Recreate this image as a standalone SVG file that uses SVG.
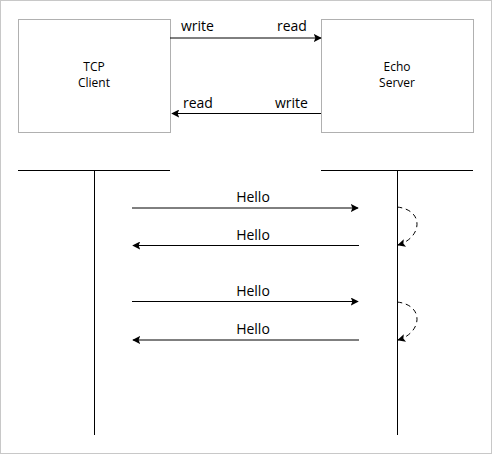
<svg xmlns="http://www.w3.org/2000/svg" width="492" height="454" viewBox="0 0 492 454">
<defs>
<marker id="ah" viewBox="0 0 10 10" refX="9" refY="5" markerWidth="8" markerHeight="8" markerUnits="userSpaceOnUse" orient="auto"><path d="M0,0 L10,5 L0,10 L2,5 z" fill="#000"/></marker>
</defs>
<style>
.box{fill:#fff;stroke:#b0b0b0;stroke-width:1}
.ln{stroke:#000;stroke-width:1;fill:none}
.arr{stroke:#000;stroke-width:1;fill:none;marker-end:url(#ah)}
.dash{stroke:#000;stroke-width:1;fill:none;stroke-dasharray:5,4;marker-end:url(#ah)}
.t{font-family:"Open Sans","Noto Sans",sans-serif;fill:#000}
.s{font-size:12px;text-anchor:middle}
.m{font-size:14px}
</style>
<rect x="0.5" y="0.5" width="491" height="453" fill="#fff" stroke="#c8c8c8"/>
<g id="client"><rect class="box" x="18.5" y="19.5" width="152" height="113"/><text class="t s" x="94" y="71">TCP</text><text class="t s" x="94" y="87">Client</text></g>
<g id="server"><rect class="box" x="321.5" y="19.5" width="152" height="113"/><text class="t s" x="397" y="71">Echo</text><text class="t s" x="397" y="87">Server</text></g>
<g id="connectors">
<line class="arr" x1="170" y1="38" x2="321" y2="38"/>
<line class="arr" x1="321" y1="113.5" x2="172" y2="113.5"/>
<text class="t m" x="181" y="31">write</text><text class="t m" x="277" y="31">read</text>
<text class="t m" x="183" y="108">read</text><text class="t m" x="275" y="108">write</text>
<line class="ln" x1="18" y1="170.5" x2="170" y2="170.5"/>
<line class="ln" x1="94.5" y1="170" x2="94.5" y2="435"/>
<line class="ln" x1="321" y1="170.5" x2="473" y2="170.5"/>
<line class="ln" x1="397.5" y1="170" x2="397.5" y2="435"/>
<line class="arr" x1="132" y1="208" x2="358" y2="208"/>
<line class="arr" x1="359" y1="245.5" x2="133" y2="245.5"/>
<line class="arr" x1="132" y1="301.5" x2="358" y2="301.5"/>
<line class="arr" x1="359" y1="340" x2="133" y2="340"/>
<text class="t m" x="253" y="202" text-anchor="middle">Hello</text>
<text class="t m" x="253" y="240" text-anchor="middle">Hello</text>
<text class="t m" x="253" y="296" text-anchor="middle">Hello</text>
<text class="t m" x="253" y="334" text-anchor="middle">Hello</text>
<path class="dash" d="M397,207 C425,210 422,238 398,245"/>
<path class="dash" d="M397,302 C425,305 422,333 398,340"/>
</g>
</svg>
